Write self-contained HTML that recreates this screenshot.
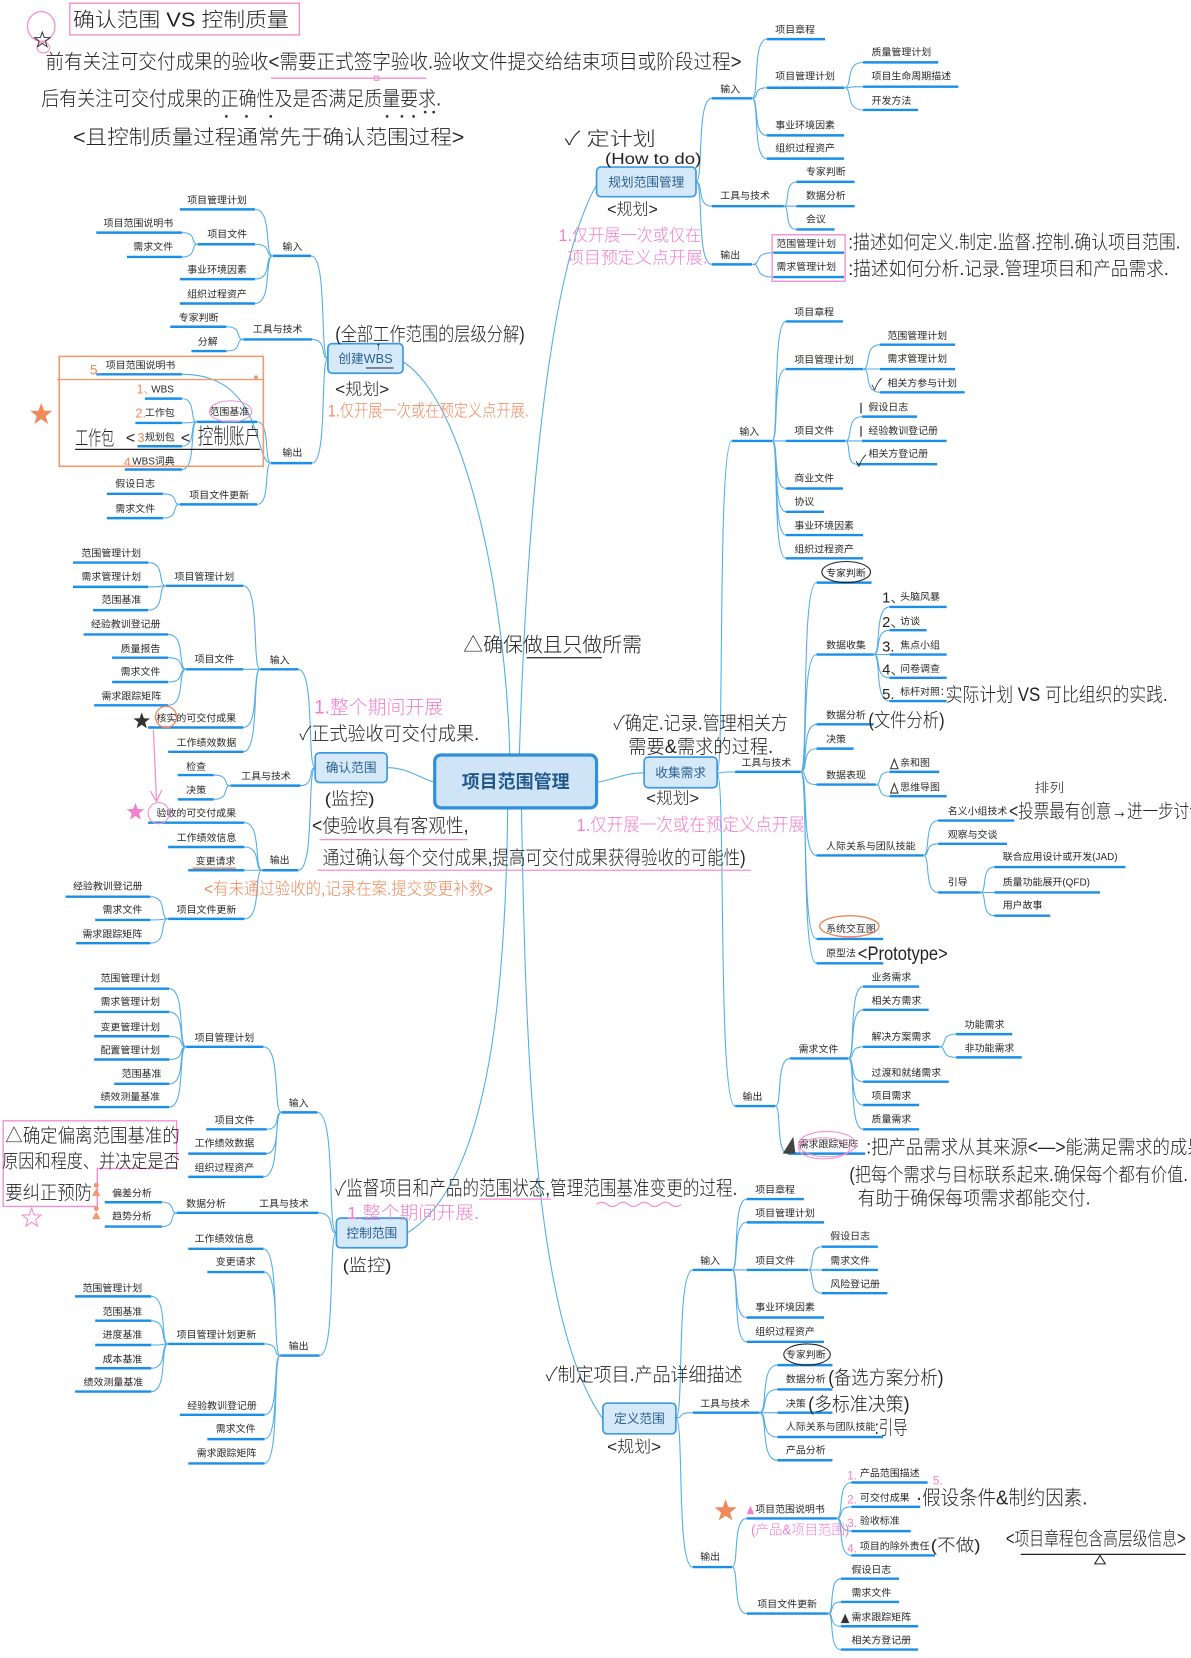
<!DOCTYPE html>
<html><head><meta charset="utf-8">
<style>
html,body{margin:0;padding:0;background:#fff;}
svg{display:block;}
.t{font-family:"Liberation Sans","Noto Sans CJK SC",sans-serif;font-size:9.4px;fill:#2a2a2a;}
.b{font-family:"Liberation Sans","Noto Sans CJK SC",sans-serif;font-size:12px;fill:#2c5f8f;text-anchor:middle;}
.h{font-family:"Liberation Sans","Noto Sans CJK SC",sans-serif;fill:#222;font-weight:300;}
.pk{fill:#f27fcc;}
.or{fill:#ef8a5c;}
.u{stroke:#1b8ee6;stroke-width:2.3;fill:none;}
.c{stroke:#52ade9;stroke-width:1;fill:none;}
.box{fill:#d5e9f9;stroke:#3d9be3;stroke-width:1.6;}
</style></head>
<body>
<svg width="1191" height="1658" viewBox="0 0 1126 1568" preserveAspectRatio="none">
<defs>
<polygon id="star" points="0,-11 2.65,-3.64 10.46,-3.4 4.28,1.39 6.47,8.9 0,4.5 -6.47,8.9 -4.28,1.39 -10.46,-3.4 -2.65,-3.64"/>
</defs>

<!-- ================= connectors ================= -->
<path class="c" stroke-width="1.2" d="M482 714C478 560 440 380 381 342M491 714C497 520 515 260 564 175M480 764C478 950 460 1120 385 1166M493 764C497 1000 505 1250 570 1342M411 740C395 735 385 726 366 726M564 740C585 736 590 731 609 731"/>
<path class="c" d="
M658 172C665.5 172 658 93 673 93M658 172C665.5 172 658 195 673 195M658 172C665.5 172 658 250 673 250
M711 93C718 93 711 37 725 37M711 93C718 93 711 83 725 83M711 93C718 93 711 128 725 128M711 93C718 93 711 150 725 150
M798 83C807 83 798 59 816 59M798 83C807 83 798 82 816 82M798 83C807 83 798 104 816 104
M741 195C747 195 741 172 753 172M741 195H753M741 195C747 195 741 217 753 217
M711 250C721 250 711 239 731 239M711 250C721 250 711 262 731 262
M310 339C302 339 310 242 294 242M310 339C302.5 339 310 321 295 321M310 339C302.5 339 310 438 295 438
M258 242C249.5 242 258 198 241 198M258 242C249.5 242 258 231 241 231M258 242C249.5 242 258 264 241 264M258 242C249.5 242 258 287 241 287
M187 231C179.5 231 187 220 172 220M187 231C179.5 231 187 243 172 243
M230 321C222 321 230 309 214 309M230 321C222 321 230 332 214 332
M256 438C240 438 250 354 172 354M256 438C249.5 438 256 399 243 399M256 438C249.5 438 256 477 243 477
M186 399C179 399 186 377 172 377M186 399C179 399 186 400 172 400M186 399C179 399 186 422 172 422M186 399C179 399 186 444 172 444
M170 477C162 477 170 467 154 467M170 477C162 477 170 490 154 490
M298 726C290 726 298 633 282 633M298 726C291 726 298 743 284 743M298 726C290 726 298 823 282 823
M246 633C238 633 246 554 230 554M246 633H230M246 633C238 633 246 688 230 688M246 633C238 633 246 711 230 711
M157 554C148.5 554 157 532 140 532M157 554C148.5 554 157 555 140 555M157 554C148.5 554 157 577 140 577
M176 633C167.5 633 176 600 159 600M176 633C167.5 633 176 622 159 622M176 633C167.5 633 176 645 159 645M176 633C167.5 633 176 667 159 667
M218 743C210 743 218 733 202 733M218 743C210 743 218 756 202 756
M248 823C239.5 823 248 778 231 778M248 823C239.5 823 248 801 231 801M248 823H231M248 823C239.5 823 248 869 231 869
M159 869C150.5 869 159 848 142 848M159 869C150.5 869 159 870 142 870M159 869C150.5 869 159 892 142 892
M678 731C685 731 678 417 692 417M678 731C686 731 678 730 695 730M678 731C686.5 731 678 1046 695 1046
M730 417C736.5 417 730 304 743 304M730 417C736.5 417 730 349 743 349M730 417H743M730 417C736.5 417 730 462 743 462M730 417C736.5 417 730 484 743 484M730 417C736.5 417 730 506 743 506M730 417C736.5 417 730 528 743 528
M816 349C824 349 816 326 832 326M816 349H832M816 349C824 349 816 371 832 371
M799 417C807 417 799 394 815 394M799 417H815M799 417C805 417 799 439 810 439
M757 730C764.5 730 757 551 772 551M757 730C764.5 730 757 619 772 619M757 730C764.5 730 757 685 772 685M757 730C764.5 730 757 708 772 708M757 730C764.5 730 757 742 772 742M757 730C764.5 730 757 809 772 809M757 730C764.5 730 757 888 772 888M757 730C764.5 730 757 911 772 911
M826 619C833.5 619 826 574 841 574M826 619C833.5 619 826 596 841 596M826 619H841M826 619C833.5 619 826 641 841 641M826 619C833.5 619 826 663 841 663
M828 742C834.5 742 828 730 841 730M828 742C834.5 742 828 753 841 753
M873 809C880 809 873 776 887 776M873 809C880 809 873 798 887 798M873 809C880 809 873 844 887 844
M927 844C933.5 844 927 820 940 820M927 844H940M927 844C933.5 844 927 866 940 866
M733 1046C740 1046 733 1001 747 1001M733 1046C739 1046 733 1091 745 1091
M802 1001C809 1001 802 933 816 933M802 1001C809 1001 802 955 816 955M802 1001C809 1001 802 990 816 990M802 1001C809 1001 802 1023 816 1023M802 1001C809 1001 802 1045 816 1045M802 1001C809 1001 802 1068 816 1068
M888 990C896 990 888 978 904 978M888 990C896 990 888 1000 904 1000
M318 1166C309 1166 318 1052 300 1052M318 1166C309.5 1166 318 1147 301 1147M318 1166C310 1166 318 1282 302 1282
M266 1052C258 1052 266 990 249 990M266 1052C259 1052 266 1068 252 1068M266 1052C259 1052 266 1091 252 1091M266 1052C258 1052 266 1113 249 1113
M176 990C168 990 176 935 160 935M176 990C168 990 176 957 160 957M176 990C168 990 176 980 160 980M176 990C168 990 176 1002 160 1002M176 990C168 990 176 1025 160 1025M176 990C168 990 176 1047 160 1047
M167 1147C160 1147 167 1137 153 1137M167 1147C160 1147 167 1160 153 1160
M265 1282C257 1282 265 1181 249 1181M265 1282C257.5 1282 265 1203 250 1203M265 1282C257.5 1282 265 1271 250 1271M265 1282C257.5 1282 265 1338 250 1338M265 1282C257.5 1282 265 1361 250 1361M265 1282C257.5 1282 265 1384 250 1384
M159 1271C151 1271 159 1226 143 1226M159 1271C151 1271 159 1249 143 1249M159 1271C151 1271 159 1272 143 1272M159 1271C151 1271 159 1294 143 1294M159 1271C151 1271 159 1316 143 1316
M639 1341C647 1341 639 1201 655 1201M639 1341C647 1341 639 1336 655 1336M639 1341C647 1341 639 1482 655 1482
M692 1201C699 1201 692 1134 706 1134M692 1201C699 1201 692 1156 706 1156M692 1201H706M692 1201C699 1201 692 1246 706 1246M692 1201C699 1201 692 1269 706 1269
M764 1201C770.5 1201 764 1179 777 1179M764 1201H777M764 1201C770.5 1201 764 1223 777 1223
M718 1336C726.5 1336 718 1291 735 1291M718 1336C726.5 1336 718 1314 735 1314M718 1336H735M718 1336C726.5 1336 718 1359 735 1359M718 1336C726.5 1336 718 1381 735 1381
M692 1482C699 1482 692 1436 706 1436M692 1482C699 1482 692 1526 706 1526
M791 1436C798 1436 791 1402 805 1402M791 1436C798 1436 791 1425 805 1425M791 1436C798 1436 791 1448 805 1448M791 1436C798 1436 791 1471 805 1471
M783 1526C789 1526 783 1493 795 1493M783 1526C789 1526 783 1515 795 1515M783 1526C789 1526 783 1538 795 1538M783 1526C789 1526 783 1560 795 1560
"/>

<!-- ================= underlines ================= -->
<path class="u" d="
M673 93H711M673 195H741M673 250H711
M725 37H780M725 83H798M725 128H798M725 150H798
M816 59H887M816 82H906M816 104H868
M753 172H808M753 195H808M753 217H789
M731 239H798M731 262H798
M258 242H294M230 321H295M256 438H295
M170 198H241M187 231H241M170 264H241M170 287H241
M91 220H172M120 243H172
M161 309H214M181 332H214
M91 354H172M186 399H243M170 477H243
M137 377H172M128 400H172M130 422H172M118 444H172
M101 467H154M101 490H154
M246 633H282M218 743H284M248 823H282
M157 554H230M176 633H230M140 688H230M159 711H230
M69 532H140M69 555H140M88 577H140
M79 600H159M106 622H159M106 645H159M89 667H159
M168 733H202M168 756H202
M140 778H231M159 801H231M178 823H231M159 869H231
M62 848H142M90 870H142M72 892H142
M692 417H730M695 730H757M695 1046H733
M743 304H797M743 349H816M743 417H799M743 462H797M743 484H779M743 506H816M743 528H816
M832 326H903M832 349H903M832 371H912
M815 394H867M815 417H895M810 439H886
M772 551H824M772 619H826M772 685H826M772 708H807M772 742H828M772 809H873M772 888H835M772 911H835
M841 574H895M841 596H876M841 619H895M841 641H895M841 663H895
M841 730H888M841 753H895
M887 776H959M887 798H952M887 844H927
M940 820H1064M940 844H1040M940 866H993
M747 1001H802M745 1091H818
M816 933H869M816 955H878M816 990H888M816 1023H897M816 1045H869M816 1068H869
M904 978H957M904 1000H966
M266 1052H300M238 1147H301M265 1282H302
M176 990H249M195 1068H252M178 1091H252M178 1113H249
M89 935H160M89 957H160M89 980H160M89 1002H160M108 1025H160M89 1047H160
M167 1147H238
M99 1137H153M99 1160H153
M178 1181H249M196 1203H250M159 1271H250M170 1338H250M196 1361H250M178 1384H250
M71 1226H143M90 1249H143M90 1272H143M90 1294H143M71 1316H143
M655 1201H692M655 1336H718M655 1482H692
M706 1134H760M706 1156H779M706 1201H764M706 1246H779M706 1269H779
M777 1179H830M777 1201H830M777 1223H839
M735 1291H787M735 1314H787M735 1336H787M735 1359H835M735 1381H787
M706 1436H791M706 1526H783
M805 1402H877M805 1425H870M805 1448H861M805 1471H884
M795 1493H850M795 1515H850M795 1538H868M795 1560H868
"/>

<!-- ================= main boxes ================= -->
<rect x="411" y="714" width="153" height="50" rx="6" fill="#cfe5f7" stroke="#2f8fdc" stroke-width="3"/>
<text x="487.5" y="745" text-anchor="middle" style="font-family:'Liberation Sans','Noto Sans CJK SC',sans-serif;font-size:17px;font-weight:bold;fill:#23588b">项目范围管理</text>

<rect class="box" x="564" y="158" width="94" height="28" rx="4"/>
<text class="b" x="611" y="176.3">规划范围管理</text>
<rect class="box" x="310" y="325" width="71" height="28" rx="4"/>
<text class="b" x="345.5" y="343.3">创建WBS</text>
<line x1="346" y1="348" x2="372" y2="348" stroke="#222" stroke-width="1"/>
<rect class="box" x="298" y="712" width="68" height="28" rx="4"/>
<text class="b" x="332" y="730.3">确认范围</text>
<rect class="box" x="609" y="716" width="69" height="29" rx="4"/>
<text class="b" x="643.5" y="734.8">收集需求</text>
<rect class="box" x="318" y="1152" width="67" height="28" rx="4"/>
<text class="b" x="351.5" y="1170.3">控制范围</text>
<rect class="box" x="570" y="1327" width="69" height="29" rx="4"/>
<text class="b" x="604.5" y="1345.8">定义范围</text>

<!-- ================= node texts ================= -->
<g class="t">
<text x="681" y="87.4">输入</text><text x="681" y="188.4">工具与技术</text><text x="681" y="244.4">输出</text>
<text x="733" y="31.4">项目章程</text><text x="733" y="75.4">项目管理计划</text><text x="733" y="121.4">事业环境因素</text><text x="733" y="143.4">组织过程资产</text>
<text x="824" y="52.4">质量管理计划</text><text x="824" y="75.4">项目生命周期描述</text><text x="824" y="98.4">开发方法</text>
<text x="762" y="165.4">专家判断</text><text x="762" y="188.4">数据分析</text><text x="762" y="210.4">会议</text>
<text x="734" y="233.4">范围管理计划</text><text x="734" y="255.4">需求管理计划</text>
<text x="267" y="236.4">输入</text><text x="239" y="314.4">工具与技术</text><text x="267" y="431.4">输出</text>
<text x="177" y="192.4">项目管理计划</text><text x="196" y="224.4">项目文件</text><text x="177" y="258.4">事业环境因素</text><text x="177" y="281.4">组织过程资产</text>
<text x="98" y="214.4">项目范围说明书</text><text x="126" y="236.4">需求文件</text>
<text x="169" y="303.4">专家判断</text><text x="187" y="326.4">分解</text>
<text x="100" y="348.4">项目范围说明书</text><text x="198" y="392.4">范围基准</text><text x="179" y="471.4">项目文件更新</text>
<text x="143" y="371.4">WBS</text><text x="137" y="393.4">工作包</text><text x="137" y="416.4">规划包</text><text x="125" y="439.4">WBS词典</text>
<text x="109" y="460.4">假设日志</text><text x="109" y="484.4">需求文件</text>
<text x="255" y="627.4">输入</text><text x="228" y="737.4">工具与技术</text><text x="255" y="816.4">输出</text>
<text x="165" y="548.4">项目管理计划</text><text x="184" y="626.4">项目文件</text><text x="148" y="682.4">核实的可交付成果</text><text x="167" y="705.4">工作绩效数据</text>
<text x="77" y="526.4">范围管理计划</text><text x="77" y="548.4">需求管理计划</text><text x="96" y="570.4">范围基准</text>
<text x="86" y="593.4">经验教训登记册</text><text x="114" y="616.4">质量报告</text><text x="114" y="638.4">需求文件</text><text x="96" y="661.4">需求跟踪矩阵</text>
<text x="176" y="728.4">检查</text><text x="176" y="750.4">决策</text>
<text x="148" y="772.4">验收的可交付成果</text><text x="167" y="795.4">工作绩效信息</text><text x="185" y="817.4">变更请求</text><text x="167" y="863.4">项目文件更新</text>
<text x="69" y="841.4">经验教训登记册</text><text x="97" y="863.4">需求文件</text><text x="78" y="886.4">需求跟踪矩阵</text>
<text x="699" y="411.4">输入</text><text x="701" y="724.4">工具与技术</text><text x="702" y="1040.4">输出</text>
<text x="751" y="298.4">项目章程</text><text x="751" y="343.4">项目管理计划</text><text x="751" y="410.4">项目文件</text><text x="751" y="455.4">商业文件</text><text x="751" y="477.4">协议</text><text x="751" y="500.4">事业环境因素</text><text x="751" y="522.4">组织过程资产</text>
<text x="839" y="320.4">范围管理计划</text><text x="839" y="342.4">需求管理计划</text><text x="839" y="365.4">相关方参与计划</text>
<text x="821" y="388.4">假设日志</text><text x="821" y="410.4">经验教训登记册</text><text x="821" y="432.4">相关方登记册</text>
<text x="781" y="545.4">专家判断</text><text x="781" y="613.4">数据收集</text><text x="781" y="679.4">数据分析</text><text x="781" y="702.4">决策</text><text x="781" y="736.4">数据表现</text><text x="781" y="803.4">人际关系与团队技能</text><text x="781" y="881.4">系统交互图</text><text x="781" y="904.4">原型法</text>
<text x="851" y="567.4">头脑风暴</text><text x="851" y="590.4">访谈</text><text x="851" y="613.4">焦点小组</text><text x="851" y="635.4">问卷调查</text><text x="851" y="657.4">标杆对照：</text>
<text x="851" y="724.4">亲和图</text><text x="851" y="747.4">思维导图</text>
<text x="896" y="770.4">名义小组技术</text><text x="896" y="792.4">观察与交谈</text><text x="896" y="837.4">引导</text>
<text x="948" y="813.4">联合应用设计或开发(JAD)</text><text x="948" y="837.4">质量功能展开(QFD)</text><text x="948" y="859.4">用户故事</text>
<text x="755" y="995.4">需求文件</text><text x="755" y="1085.4">需求跟踪矩阵</text>
<text x="824" y="927.4">业务需求</text><text x="824" y="949.4">相关方需求</text><text x="824" y="983.4">解决方案需求</text><text x="824" y="1017.4">过渡和就绪需求</text><text x="824" y="1039.4">项目需求</text><text x="824" y="1061.4">质量需求</text>
<text x="912" y="972.4">功能需求</text><text x="912" y="994.4">非功能需求</text>
<text x="273" y="1046.4">输入</text><text x="245" y="1141.4">工具与技术</text><text x="273" y="1276.4">输出</text>
<text x="184" y="984.4">项目管理计划</text><text x="203" y="1062.4">项目文件</text><text x="184" y="1084.4">工作绩效数据</text><text x="184" y="1107.4">组织过程资产</text>
<text x="95" y="928.4">范围管理计划</text><text x="95" y="950.4">需求管理计划</text><text x="95" y="974.4">变更管理计划</text><text x="95" y="996.4">配置管理计划</text><text x="115" y="1018.4">范围基准</text><text x="95" y="1040.4">绩效测量基准</text>
<text x="176" y="1141.4">数据分析</text>
<text x="106" y="1131.4">偏差分析</text><text x="106" y="1153.4">趋势分析</text>
<text x="184" y="1174.4">工作绩效信息</text><text x="204" y="1196.4">变更请求</text><text x="167" y="1265.4">项目管理计划更新</text><text x="177" y="1332.4">经验教训登记册</text><text x="204" y="1354.4">需求文件</text><text x="186" y="1377.4">需求跟踪矩阵</text>
<text x="78" y="1221.4">范围管理计划</text><text x="97" y="1243.4">范围基准</text><text x="97" y="1265.4">进度基准</text><text x="97" y="1288.4">成本基准</text><text x="79" y="1310.4">绩效测量基准</text>
<text x="662" y="1195.4">输入</text><text x="662" y="1330.4">工具与技术</text><text x="662" y="1475.4">输出</text>
<text x="714" y="1128.4">项目章程</text><text x="714" y="1150.4">项目管理计划</text><text x="714" y="1195.4">项目文件</text><text x="714" y="1239.4">事业环境因素</text><text x="714" y="1262.4">组织过程资产</text>
<text x="785" y="1172.4">假设日志</text><text x="785" y="1195.4">需求文件</text><text x="785" y="1217.4">风险登记册</text>
<text x="743" y="1284.4">专家判断</text><text x="743" y="1307.4">数据分析</text><text x="743" y="1330.4">决策</text><text x="743" y="1352.4">人际关系与团队技能</text><text x="743" y="1374.4">产品分析</text>
<text x="714" y="1430.4">项目范围说明书</text><text x="716" y="1520.4">项目文件更新</text>
<text x="813" y="1396.4">产品范围描述</text><text x="813" y="1419.4">可交付成果</text><text x="813" y="1441.4">验收标准</text><text x="813" y="1465.4">项目的除外责任</text>
<text x="805" y="1487.4">假设日志</text><text x="805" y="1509.4">需求文件</text><text x="805" y="1532.4">需求跟踪矩阵</text><text x="805" y="1554.4">相关方登记册</text>
</g>

<!-- ================= handwriting: top-left ================= -->
<rect x="66" y="3" width="217" height="30" fill="none" stroke="#f48fd0" stroke-width="1.3"/>
<text class="h" x="69" y="25" style="font-size:19px" textLength="204" lengthAdjust="spacingAndGlyphs">确认范围 VS 控制质量</text>
<ellipse cx="39" cy="25" rx="13" ry="14" fill="none" stroke="#f48fd0" stroke-width="1.2"/>
<ellipse cx="41" cy="45" rx="6" ry="5" fill="none" stroke="#f48fd0" stroke-width="1"/>
<use href="#star" transform="translate(40,38) scale(0.7)" fill="none" stroke="#333" stroke-width="1.3"/>
<text class="h" x="43" y="65" style="font-size:19px" textLength="658" lengthAdjust="spacingAndGlyphs">前有关注可交付成果的验收&lt;需要正式签字验收.验收文件提交给结束项目或阶段过程&gt;</text>
<line x1="256" y1="74" x2="403" y2="74" stroke="#f48fd0" stroke-width="1.3"/>
<rect x="354" y="72" width="4" height="4" fill="none" stroke="#f48fd0"/>
<text class="h" x="39" y="100" style="font-size:19px" textLength="378" lengthAdjust="spacingAndGlyphs">后有关注可交付成果的正确性及是否满足质量要求.</text>
<g fill="#333"><circle cx="214" cy="110" r="1.3"/><circle cx="233" cy="110" r="1.3"/><circle cx="256" cy="110" r="1.3"/><circle cx="366" cy="110" r="1.3"/><circle cx="380" cy="110" r="1.3"/><circle cx="391" cy="110" r="1.3"/><circle cx="402" cy="106" r="1.3"/><circle cx="410" cy="106" r="1.3"/></g>
<text class="h" x="69" y="136" style="font-size:19px" textLength="370" lengthAdjust="spacingAndGlyphs">&lt;且控制质量过程通常先于确认范围过程&gt;</text>

<!-- 规划 annotations -->
<text class="h" x="534" y="137" style="font-size:18px" textLength="86" lengthAdjust="spacingAndGlyphs">✓ 定计划</text>
<text class="h" x="572" y="155" style="font-size:15px" textLength="91" lengthAdjust="spacingAndGlyphs">(How to do)</text>
<text class="h" x="574" y="203" style="font-size:15px" textLength="48" lengthAdjust="spacingAndGlyphs">&lt;规划&gt;</text>
<text class="h pk" x="528" y="228" style="font-size:16px" textLength="135" lengthAdjust="spacingAndGlyphs">1.仅开展一次或仅在</text>
<text class="h pk" x="536" y="249" style="font-size:16px" textLength="133" lengthAdjust="spacingAndGlyphs">项目预定义点开展.</text>
<rect x="730" y="222" width="69" height="44" fill="none" stroke="#f48fd0" stroke-width="1.3"/>
<text class="h" x="802" y="235" style="font-size:18px" textLength="314" lengthAdjust="spacingAndGlyphs">:描述如何定义.制定.监督.控制.确认项目范围.</text>
<text class="h" x="802" y="260" style="font-size:18px" textLength="303" lengthAdjust="spacingAndGlyphs">:描述如何分析.记录.管理项目和产品需求.</text>

<!-- WBS annotations -->
<text class="h" x="317" y="322" style="font-size:18px" textLength="179" lengthAdjust="spacingAndGlyphs">(全部工作范围的层级分解)</text>
<text class="h" x="355" y="331" style="font-size:11px">↑</text>
<text class="h" x="317" y="373" style="font-size:15px" textLength="51" lengthAdjust="spacingAndGlyphs">&lt;规划&gt;</text>
<text class="h or" x="310" y="394" style="font-size:16px" textLength="190" lengthAdjust="spacingAndGlyphs">1.仅开展一次或在预定义点开展.</text>
<rect x="56" y="337" width="193" height="104" fill="none" stroke="#f29a6e" stroke-width="1.5"/>
<line x1="54" y1="359" x2="249" y2="359" stroke="#f29a6e" stroke-width="1.3"/>
<circle cx="242" cy="357" r="2" fill="#f29a6e"/>
<use href="#star" transform="translate(39,392)" fill="#ef8a5c"/>
<text class="h or" x="85" y="354" style="font-size:13px">5.</text>
<text class="h or" x="129" y="372" style="font-size:12px">1、</text>
<text class="h or" x="128" y="395" style="font-size:12px">2.</text>
<text class="h or" x="130" y="418" style="font-size:12px">3</text>
<text class="h or" x="117" y="441" style="font-size:12px">4.</text>
<ellipse cx="218" cy="389" rx="20" ry="10" fill="none" stroke="#f48fd0" stroke-width="1"/>
<text class="h" x="71" y="421" style="font-size:19px" textLength="37" lengthAdjust="spacingAndGlyphs">工作包</text>
<text class="h" x="119" y="419" style="font-size:15px">&lt;</text>
<text class="h" x="171" y="419" style="font-size:15px">&lt;</text>
<text class="h" x="187" y="420" style="font-size:21px" textLength="59" lengthAdjust="spacingAndGlyphs">控制账户</text>
<line x1="71" y1="425" x2="246" y2="425" stroke="#222" stroke-width="1.2"/>

<!-- 确认 annotations -->
<use href="#star" transform="translate(134,682) scale(0.75)" fill="#333"/>
<circle cx="157" cy="678" r="10" fill="none" stroke="#f0875a" stroke-width="1.3"/>
<path d="M145 690L148 757M142 748L148 758L153 747" fill="none" stroke="#f48fd0" stroke-width="1.2"/>
<use href="#star" transform="translate(128,768) scale(0.8)" fill="#f27fcc"/>
<circle cx="150" cy="769" r="10" fill="none" stroke="#f48fd0" stroke-width="1"/>
<line x1="182" y1="821" x2="223" y2="821" stroke="#ef8a5c" stroke-width="1.5"/>
<text class="h pk" x="297" y="675" style="font-size:18px" textLength="122" lengthAdjust="spacingAndGlyphs">1.整个期间开展</text>
<text class="h" x="283" y="700" style="font-size:18px" textLength="170" lengthAdjust="spacingAndGlyphs">✓正式验收可交付成果.</text>
<text class="h" x="307" y="761" style="font-size:16px" textLength="47" lengthAdjust="spacingAndGlyphs">(监控)</text>
<text class="h" x="295" y="787" style="font-size:18px" textLength="148" lengthAdjust="spacingAndGlyphs">&lt;使验收具有客观性,</text>
<line x1="302" y1="794" x2="442" y2="794" stroke="#f48fd0" stroke-width="1.2"/>
<text class="h" x="305" y="817" style="font-size:18px" textLength="400" lengthAdjust="spacingAndGlyphs">通过确认每个交付成果,提高可交付成果获得验收的可能性)</text>
<line x1="300" y1="823" x2="710" y2="823" stroke="#f48fd0" stroke-width="1.2"/>
<text class="h or" x="193" y="846" style="font-size:16px" textLength="273" lengthAdjust="spacingAndGlyphs">&lt;有未通过验收的,记录在案.提交变更补救&gt;</text>

<!-- center annotation -->
<text class="h" x="438" y="616" style="font-size:19px" textLength="169" lengthAdjust="spacingAndGlyphs">△确保做且只做所需</text>
<line x1="498" y1="622" x2="569" y2="622" stroke="#222" stroke-width="1.2"/>

<!-- 收集 annotations -->
<text class="h" x="580" y="690" style="font-size:18px" textLength="165" lengthAdjust="spacingAndGlyphs">✓确定.记录.管理相关方</text>
<text class="h" x="594" y="712" style="font-size:18px" textLength="137" lengthAdjust="spacingAndGlyphs">需要&amp;需求的过程.</text>
<text class="h" x="611" y="760" style="font-size:15px" textLength="50" lengthAdjust="spacingAndGlyphs">&lt;规划&gt;</text>
<text class="h pk" x="545" y="786" style="font-size:17px" textLength="216" lengthAdjust="spacingAndGlyphs">1.仅开展一次或在预定义点开展</text>
<text class="h" x="824" y="369" style="font-size:15px">✓</text>
<path d="M814 381V391M814 403V413" stroke="#333" stroke-width="1.2"/>
<text class="h" x="809" y="441" style="font-size:15px">✓</text>
<ellipse cx="800" cy="541" rx="23" ry="10" fill="none" stroke="#222" stroke-width="1"/>
<text class="h" x="834" y="570" style="font-size:14px">1、</text>
<text class="h" x="834" y="593" style="font-size:14px">2、</text>
<text class="h" x="834" y="616" style="font-size:14px">3.</text>
<text class="h" x="834" y="638" style="font-size:14px">4、</text>
<text class="h" x="834" y="661" style="font-size:14px">5.</text>
<text class="h" x="894" y="663" style="font-size:18px" textLength="210" lengthAdjust="spacingAndGlyphs">实际计划 VS 可比组织的实践.</text>
<text class="h" x="821" y="687" style="font-size:18px" textLength="72" lengthAdjust="spacingAndGlyphs">(文件分析)</text>
<path d="M842 727L849 727L845.5 718ZM842 750L849 750L845.5 741Z" fill="none" stroke="#333" stroke-width="1"/>
<text class="h" x="978" y="749" style="font-size:12px" textLength="28" lengthAdjust="spacingAndGlyphs">排列</text>
<text class="h" x="954" y="773" style="font-size:18px" textLength="185" lengthAdjust="spacingAndGlyphs">&lt;投票最有创意→进一步讨论</text>
<ellipse cx="803" cy="876" rx="28" ry="10" fill="none" stroke="#f0875a" stroke-width="1.3"/>
<text class="h" x="811" y="908" style="font-size:18px" textLength="85" lengthAdjust="spacingAndGlyphs">&lt;Prototype&gt;</text>
<polygon points="740,1091 752,1091 750,1075" fill="#444"/>
<ellipse cx="782" cy="1082" rx="27" ry="12" fill="none" stroke="#f48fd0" stroke-width="1"/>
<ellipse cx="779" cy="1086" rx="24" ry="10" fill="none" stroke="#f48fd0" stroke-width="1"/>
<text class="h" x="819" y="1091" style="font-size:18px" textLength="320" lengthAdjust="spacingAndGlyphs">:把产品需求从其来源&lt;—&gt;能满足需求的成果</text>
<text class="h" x="803" y="1117" style="font-size:18px" textLength="320" lengthAdjust="spacingAndGlyphs">(把每个需求与目标联系起来.确保每个都有价值.</text>
<text class="h" x="811" y="1139" style="font-size:18px" textLength="220" lengthAdjust="spacingAndGlyphs">有助于确保每项需求都能交付.</text>

<!-- 控制 annotations -->
<text class="h" x="317" y="1130" style="font-size:19px" textLength="380" lengthAdjust="spacingAndGlyphs">✓监督项目和产品的范围状态,管理范围基准变更的过程.</text>
<line x1="453" y1="1134" x2="521" y2="1134" stroke="#f48fd0" stroke-width="1.2"/>
<path d="M564 1139q5 -4 10 0t10 0t10 0t10 0t10 0t10 0t10 0t10 0" fill="none" stroke="#f48fd0" stroke-width="1.1"/>
<text class="h pk" x="328" y="1153" style="font-size:17px" textLength="125" lengthAdjust="spacingAndGlyphs">1.整个期间开展.</text>
<text class="h" x="324" y="1202" style="font-size:16px" textLength="46" lengthAdjust="spacingAndGlyphs">(监控)</text>
<path d="M3 1060H167V1105H92V1141H3Z" fill="none" stroke="#f48fd0" stroke-width="1.3" stroke-linejoin="round"/>
<text class="h" x="5" y="1080" style="font-size:18px" textLength="165" lengthAdjust="spacingAndGlyphs">△确定偏离范围基准的</text>
<text class="h" x="2" y="1104" style="font-size:18px" textLength="168" lengthAdjust="spacingAndGlyphs">原因和程度、并决定是否</text>
<text class="h" x="5" y="1134" style="font-size:18px" textLength="82" lengthAdjust="spacingAndGlyphs">要纠正预防</text>
<use href="#star" transform="translate(30,1152) scale(0.85)" fill="none" stroke="#f48fd0" stroke-width="1.2"/>
<g fill="#f29a6e"><circle cx="91" cy="1121" r="2.4"/><polygon points="87,1131 95,1131 91,1124"/><circle cx="91" cy="1143" r="2.4"/><polygon points="87,1153 95,1153 91,1146"/></g>

<!-- 定义 annotations -->
<text class="h" x="516" y="1306" style="font-size:18px" textLength="186" lengthAdjust="spacingAndGlyphs">✓制定项目.产品详细描述</text>
<text class="h" x="574" y="1373" style="font-size:15px" textLength="51" lengthAdjust="spacingAndGlyphs">&lt;规划&gt;</text>
<ellipse cx="763" cy="1281" rx="22" ry="10" fill="none" stroke="#222" stroke-width="1"/>
<text class="h" x="783" y="1309" style="font-size:18px" textLength="109" lengthAdjust="spacingAndGlyphs">(备选方案分析)</text>
<text class="h" x="764" y="1334" style="font-size:18px" textLength="96" lengthAdjust="spacingAndGlyphs">(多标准决策)</text>
<text class="h" x="827" y="1356" style="font-size:18px" textLength="31" lengthAdjust="spacingAndGlyphs">:引导</text>
<use href="#star" transform="translate(686,1429)" fill="#ef8a5c"/>
<polygon points="706,1432 713,1432 709.5,1424" fill="#f27fcc"/>
<text class="h pk" x="710" y="1451" style="font-size:13px" textLength="93" lengthAdjust="spacingAndGlyphs">(产品&amp;项目范围)</text>
<text class="h pk" x="801" y="1399" style="font-size:11px">1.</text>
<text class="h pk" x="801" y="1422" style="font-size:11px">2.</text>
<text class="h pk" x="801" y="1444" style="font-size:11px">3.</text>
<text class="h pk" x="801" y="1468" style="font-size:11px">4.</text>
<text class="h pk" x="882" y="1404" style="font-size:11px">5.</text>
<text class="h" x="866" y="1423" style="font-size:19px" textLength="162" lengthAdjust="spacingAndGlyphs">·假设条件&amp;制约因素.</text>
<text class="h" x="880" y="1467" style="font-size:16px" textLength="47" lengthAdjust="spacingAndGlyphs">(不做)</text>
<text class="h" x="951" y="1461" style="font-size:18px" textLength="170" lengthAdjust="spacingAndGlyphs">&lt;项目章程包含高层级信息&gt;</text>
<line x1="965" y1="1470" x2="1121" y2="1470" stroke="#222" stroke-width="1.2"/>
<polygon points="1035,1479 1045,1479 1040,1471" fill="none" stroke="#222" stroke-width="1"/>
<polygon points="795,1535 803,1535 799,1526" fill="#333"/>
</svg>
</body></html>
